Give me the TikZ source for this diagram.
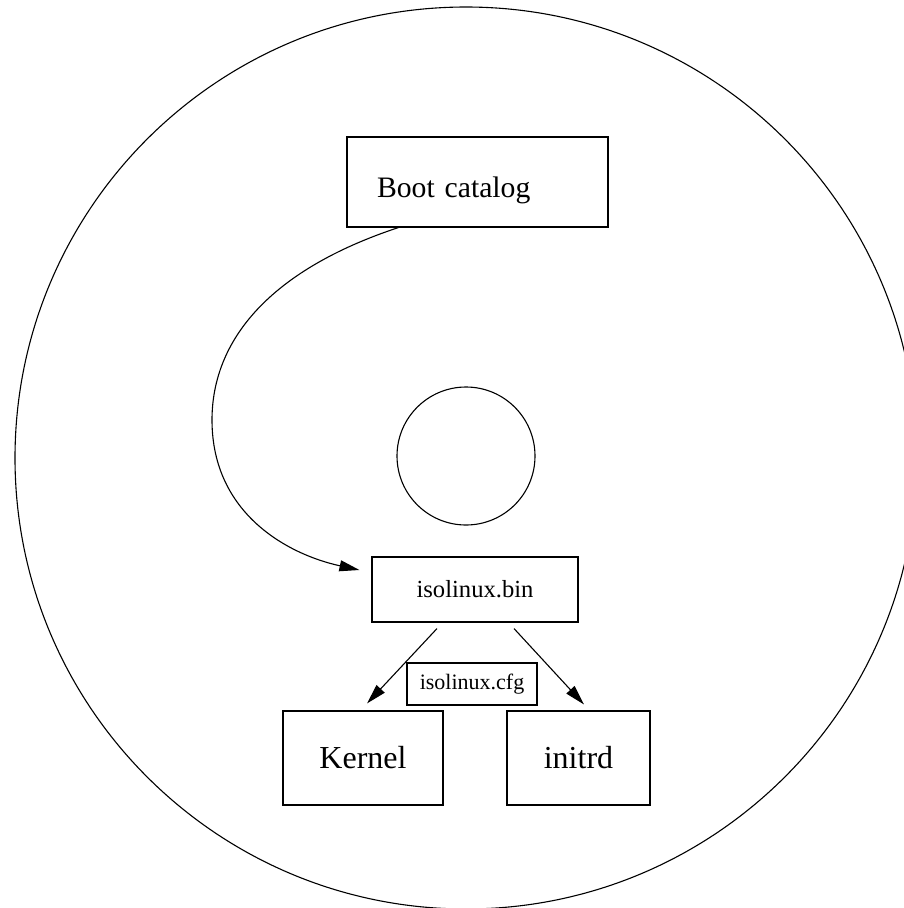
\documentclass[tikz,border=0pt]{standalone}
\usepackage{fontspec}
\setmainfont{Liberation Serif}
\usetikzlibrary{arrows.meta,positioning}

\begin{document}
\begin{tikzpicture}[
        x=1pt, y=-1pt, line width=1.1pt,
        disk/.style={circle, draw, inner sep=0pt},
        box/.style={rectangle, draw, inner sep=0pt, align=center},
        bigtext/.style={font=\fontsize{32}{34}\selectfont},
        arrow/.style={-{Triangle[length=20pt,width=11pt]}}
    ]
    \useasboundingbox (0,0) rectangle (904,908);

    % CD
    \node[disk, minimum size=902pt] (disc) at (466,458) {};
    \node[disk, minimum size=138pt] (hole) at (466,456) {};

    % Boites
    \node[box, minimum width=261pt, minimum height=90pt, text width=201pt, inner xsep=30pt, align=left,
        text height=38pt, text depth=8pt, font=\fontsize{29.7}{32}\selectfont] (boot) at (477.5,182) {Boot catalog};
    \node[box, minimum width=206pt, minimum height=65pt, font=\fontsize{24.6}{26}\selectfont] (bin) at (475,589.5) {isolinux.bin};
    \node[box, minimum width=130pt, minimum height=42pt, font=\fontsize{22}{24}\selectfont] (cfg) at (472,684) {isolinux.cfg};
    \node[box, bigtext, minimum width=160pt, minimum height=94pt] (kernel) at (363,758) {Kernel};
    \node[box, bigtext, minimum width=143pt, minimum height=94pt] (initrd) at (578.5,758) {initrd};

    % Liens
    \coordinate (bootexit) at ([xshift=52pt]boot.south west);
    \coordinate (binentry) at ([xshift=-12pt,yshift=19.5pt]bin.west);
    \draw[arrow] (bootexit) .. controls (270,270) and (212,340) .. (212,420)
        .. controls (212,515) and (290,555) .. (binentry);
    \draw[arrow] ([xshift=-38pt,yshift=-6pt]bin.south) -- ([xshift=4pt,yshift=7pt]kernel.north);
    \draw[arrow] ([xshift=39pt,yshift=-6pt]bin.south) -- ([xshift=5.5pt,yshift=6pt]initrd.north);

\end{tikzpicture}
\end{document}
